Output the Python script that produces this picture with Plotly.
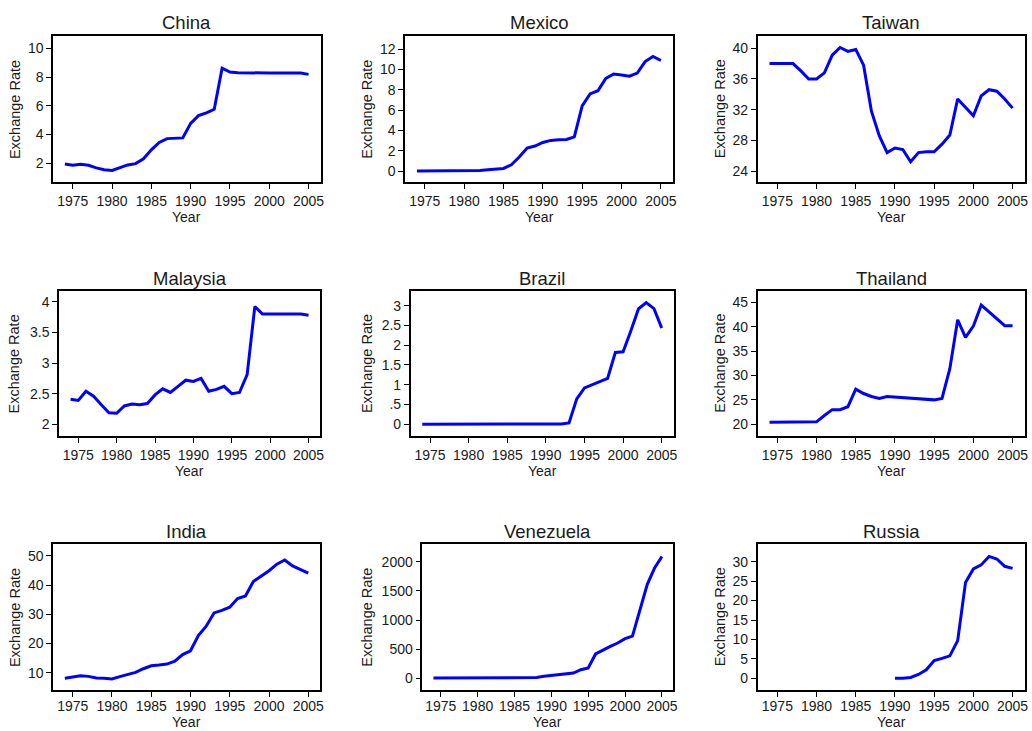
import plotly.graph_objects as go

# ---- data -------------------------------------------------------------
years = list(range(1974, 2006))

china = [1.95, 1.86, 1.94, 1.86, 1.68, 1.55, 1.50, 1.70, 1.89, 1.98, 2.32, 2.94,
         3.45, 3.72, 3.72, 3.77, 4.78, 5.32, 5.51, 5.76, 8.62, 8.35, 8.31, 8.29,
         8.28, 8.28, 8.28, 8.28, 8.28, 8.28, 8.28, 8.19]

mexico = [0.0125, 0.0125, 0.0155, 0.0226, 0.0228, 0.0228, 0.0230, 0.0245, 0.0564,
          0.120, 0.168, 0.257, 0.612, 1.378, 2.273, 2.462, 2.813, 3.018, 3.095,
          3.116, 3.375, 6.419, 7.599, 7.918, 9.136, 9.560, 9.456, 9.342, 9.656,
          10.789, 11.286, 10.898]

taiwan = [38.0, 38.0, 38.0, 38.0, 37.05, 36.0, 36.0, 36.8, 39.1, 40.1, 39.6, 39.85,
          37.8, 31.8, 28.6, 26.4, 27.0, 26.8, 25.2, 26.4, 26.5, 26.5, 27.5, 28.7,
          33.4, 32.3, 31.2, 33.8, 34.6, 34.4, 33.4, 32.2]

malaysia = [2.41, 2.39, 2.54, 2.46, 2.32, 2.19, 2.18, 2.30, 2.33, 2.32, 2.34, 2.48,
            2.58, 2.52, 2.62, 2.72, 2.70, 2.75, 2.54, 2.57, 2.62, 2.50, 2.52, 2.81,
            3.92, 3.80, 3.80, 3.80, 3.80, 3.80, 3.80, 3.78]

brazil = [0.0, 0.0, 0.0, 0.0, 0.0, 0.0, 0.0, 0.0, 0.0, 0.0, 0.0, 0.0,
          0.0, 0.0, 0.0, 0.0, 0.0, 0.0, 0.002, 0.032, 0.639, 0.918, 1.005, 1.078,
          1.161, 1.815, 1.830, 2.358, 2.921, 3.077, 2.925, 2.434]

thailand = [20.4, 20.4, 20.4, 20.4, 20.4, 20.4, 20.5, 21.8, 23.0, 23.0, 23.6, 27.2,
            26.3, 25.7, 25.3, 25.7, 25.6, 25.5, 25.4, 25.3, 25.2, 25.0, 25.3, 31.4,
            41.4, 37.8, 40.1, 44.4, 43.0, 41.5, 40.2, 40.2]

india = [8.1, 8.4, 8.96, 8.74, 8.19, 8.13, 7.86, 8.66, 9.46, 10.1, 11.36, 12.37,
         12.61, 12.96, 13.92, 16.23, 17.5, 22.74, 25.92, 30.49, 31.37, 32.43, 35.43,
         36.31, 41.26, 43.06, 44.94, 47.19, 48.61, 46.58, 45.32, 44.10]

venezuela = [4.29, 4.29, 4.29, 4.29, 4.29, 4.29, 4.29, 4.29, 4.29, 4.29, 7.0, 7.5,
             8.08, 14.5, 14.5, 34.68, 46.9, 56.8, 68.4, 90.8, 148.5, 176.8, 417.3,
             488.6, 547.6, 605.7, 680.0, 723.7, 1161.0, 1607.0, 1891.3, 2089.8]

russia_years = list(range(1990, 2006))
russia = [0.0006, 0.0018, 0.222, 0.992, 2.191, 4.559, 5.121, 5.785, 9.705, 24.62,
          28.13, 29.17, 31.35, 30.69, 28.81, 28.28]

year_ticks = [1975, 1980, 1985, 1990, 1995, 2000, 2005]

china_ticks = [2, 4, 6, 8, 10]
mexico_ticks = [0, 2, 4, 6, 8, 10, 12]
taiwan_ticks = [24, 28, 32, 36, 40]
malaysia_ticks = [2, 2.5, 3, 3.5, 4]
malaysia_labels = ["2", "2.5", "3", "3.5", "4"]
brazil_ticks = [0, 0.5, 1, 1.5, 2, 2.5, 3]
brazil_labels = ["0", ".5", "1", "1.5", "2", "2.5", "3"]
thailand_ticks = [20, 25, 30, 35, 40, 45]
india_ticks = [10, 20, 30, 40, 50]
venezuela_ticks = [0, 500, 1000, 1500, 2000]
russia_ticks = [0, 5, 10, 15, 20, 25, 30]

# ---- layout geometry (pixels) ----------------------------------------
W, H = 1032, 731
FONT = "Liberation Sans"
TXT = "#1a1a1a"


def px_x(v):
    return v / W


def px_y(v):
    return 1 - v / H


panels = [
    # name, x, y, ticks, labels, frame-left, frame-right, frame-top, frame-bottom, yrange, ylabel-x
    ("China", years, china, china_ticks, None, 53.3, 322, 36, 182.3, [0.68, 10.86], 15),
    ("Mexico", years, mexico, mexico_ticks, None, 406.7, 675.7, 36, 182.3, [-1.11, 13.31], 369),
    ("Taiwan", years, taiwan, taiwan_ticks, None, 760.7, 1028.7, 36, 182.3, [22.53, 41.6], 723),
    ("Malaysia", years, malaysia, malaysia_ticks, malaysia_labels, 59.3, 321.7, 291, 436, [1.81, 4.175], 15),
    ("Brazil", years, brazil, brazil_ticks, brazil_labels, 412.3, 676.3, 291, 436, [-0.30, 3.37], 369),
    ("Thailand", years, thailand, thailand_ticks, None, 760.7, 1028.7, 291, 436, [17.6, 47.3], 723),
    ("India", years, india, india_ticks, None, 53.3, 321.7, 544.3, 690, [4.07, 54.0], 15),
    ("Venezuela", years, venezuela, venezuela_ticks, None, 424, 676, 544.3, 690, [-200, 2298], 369),
    ("Russia", russia_years, russia, russia_ticks, None, 760.7, 1028.7, 544.3, 690, [-3.0, 34.47], 723),
]

fig = go.Figure()
layout = dict(
    width=W, height=H,
    margin=dict(l=0, r=0, t=0, b=0),
    paper_bgcolor="white", plot_bgcolor="white",
    showlegend=False,
    font=dict(family=FONT, size=14, color=TXT),
)
annotations = []

axis_common = dict(
    showgrid=False, zeroline=False,
    showline=True, mirror=True, linecolor="black", linewidth=1.6,
    ticks="outside", ticklen=5, tickwidth=1.4, tickcolor="black",
    tickfont=dict(family=FONT, size=14, color=TXT),
)

for i, (name, xs, ys, yt, yl, fl, fr, ft, fb, yr, ylx) in enumerate(panels, start=1):
    sx = "" if i == 1 else str(i)
    bottom_row = fb > 600
    fig.add_trace(go.Scatter(
        x=xs, y=ys, mode="lines",
        line=dict(color="#0000ff", width=3),
        xaxis="x" + sx, yaxis="y" + sx,
        hoverinfo="x+y",
    ))
    layout["xaxis" + sx] = dict(
        axis_common,
        domain=[px_x(fl), px_x(fr)],
        anchor="y" + sx,
        range=[1972.5, 2006.55],
        tickvals=year_ticks,
        ticklabelstandoff=-3 if bottom_row else 0,
    )
    yaxis = dict(
        axis_common,
        domain=[px_y(fb), px_y(ft)],
        anchor="x" + sx,
        range=yr,
        tickvals=yt,
    )
    if yl is not None:
        yaxis["ticktext"] = yl
    layout["yaxis" + sx] = yaxis

    cx = (fl + fr) / 2
    # panel title
    annotations.append(dict(
        text=name, x=px_x(cx), y=px_y(ft - 13), xref="paper", yref="paper",
        xanchor="center", yanchor="middle", showarrow=False,
        font=dict(family=FONT, size=18.5, color=TXT),
    ))
    # x-axis title (bottom row sits flush with the lower edge of the figure)
    if bottom_row:
        year_pos = dict(y=0, yanchor="bottom")
    else:
        year_pos = dict(y=px_y(fb + 35), yanchor="middle")
    annotations.append(dict(
        text="Year", x=px_x(cx), xref="paper", yref="paper",
        xanchor="center", showarrow=False, borderpad=0,
        font=dict(family=FONT, size=14, color=TXT),
        **year_pos,
    ))
    # y-axis title
    annotations.append(dict(
        text="Exchange Rate", x=px_x(ylx), y=px_y((ft + fb) / 2),
        xref="paper", yref="paper", textangle=-90,
        xanchor="center", yanchor="middle", showarrow=False,
        font=dict(family=FONT, size=14.5, color=TXT),
    ))

layout["annotations"] = annotations
fig.update_layout(**layout)
fig.write_html("out.html")
